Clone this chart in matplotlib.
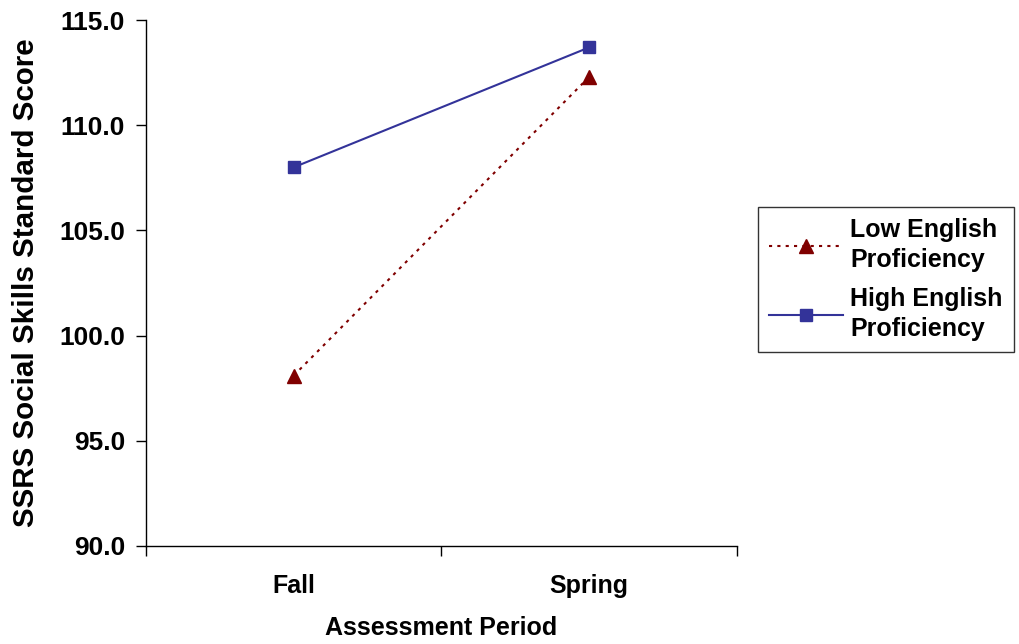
import matplotlib
matplotlib.use("Agg")
import matplotlib.pyplot as plt

periods = ["Fall", "Spring"]
low_english = [98.1, 112.3]
high_english = [108.0, 113.7]
y_ticks = [90.0, 95.0, 100.0, 105.0, 110.0, 115.0]
series_labels = ["Low English\nProficiency", "High English\nProficiency"]

plt.rcParams['font.family'] = ['Liberation Sans', 'DejaVu Sans']

fig = plt.figure(figsize=(10.2, 6.44), dpi=100)
ax = fig.add_axes([0.1431, 0.1522, 0.7225 - 0.1431, 0.9689 - 0.1522])

x = list(range(len(periods)))
ax.plot(x, low_english, color="#800000", linestyle=(0, (1.5, 2.5)), linewidth=1.5,
        marker="^", markersize=10, markerfacecolor="#800000", markeredgecolor="#800000",
        label=series_labels[0])
ax.plot(x, high_english, color="#333399", linestyle="-", linewidth=1.5,
        marker="s", markersize=8.5, markerfacecolor="#333399", markeredgecolor="#333399",
        label=series_labels[1])

ax.set_xlim(-0.5, len(periods) - 0.5)
ax.set_ylim(y_ticks[0], y_ticks[-1])
ax.set_yticks(y_ticks)
ax.set_yticklabels([f"{v:.1f}" for v in y_ticks], fontsize=19, fontweight="bold")
ax.tick_params(axis="y", direction="out", length=7, width=1, pad=8)

ax.set_xticks([i - 0.5 for i in range(len(periods) + 1)])
ax.set_xticklabels([])
ax.tick_params(axis="x", which="major", direction="out", length=7, width=1)
ax.set_xticks(x, minor=True)
ax.set_xticklabels(periods, minor=True, fontsize=18, fontweight="bold")
ax.tick_params(axis="x", which="minor", length=0, pad=20)

for s in ["top", "right"]:
    ax.spines[s].set_visible(False)
for s in ["left", "bottom"]:
    ax.spines[s].set_linewidth(1)

ax.set_xlabel("Assessment Period", fontsize=18, fontweight="bold", labelpad=13)
ax.set_ylabel("SSRS Social Skills Standard Score", fontsize=21.3, fontweight="bold", labelpad=14)

leg = ax.legend(loc="upper left", bbox_to_anchor=(1.0355, 0.6445),
                prop={"weight": "bold", "size": 18}, frameon=True, fancybox=False,
                edgecolor="black", handlelength=2.95, labelspacing=0.6,
                borderpad=0.45, handletextpad=0.3, borderaxespad=0)
leg.get_frame().set_linewidth(1)
for t in leg.get_texts():
    t.set_linespacing(1.3)

fig.savefig("out.png", dpi=100)
